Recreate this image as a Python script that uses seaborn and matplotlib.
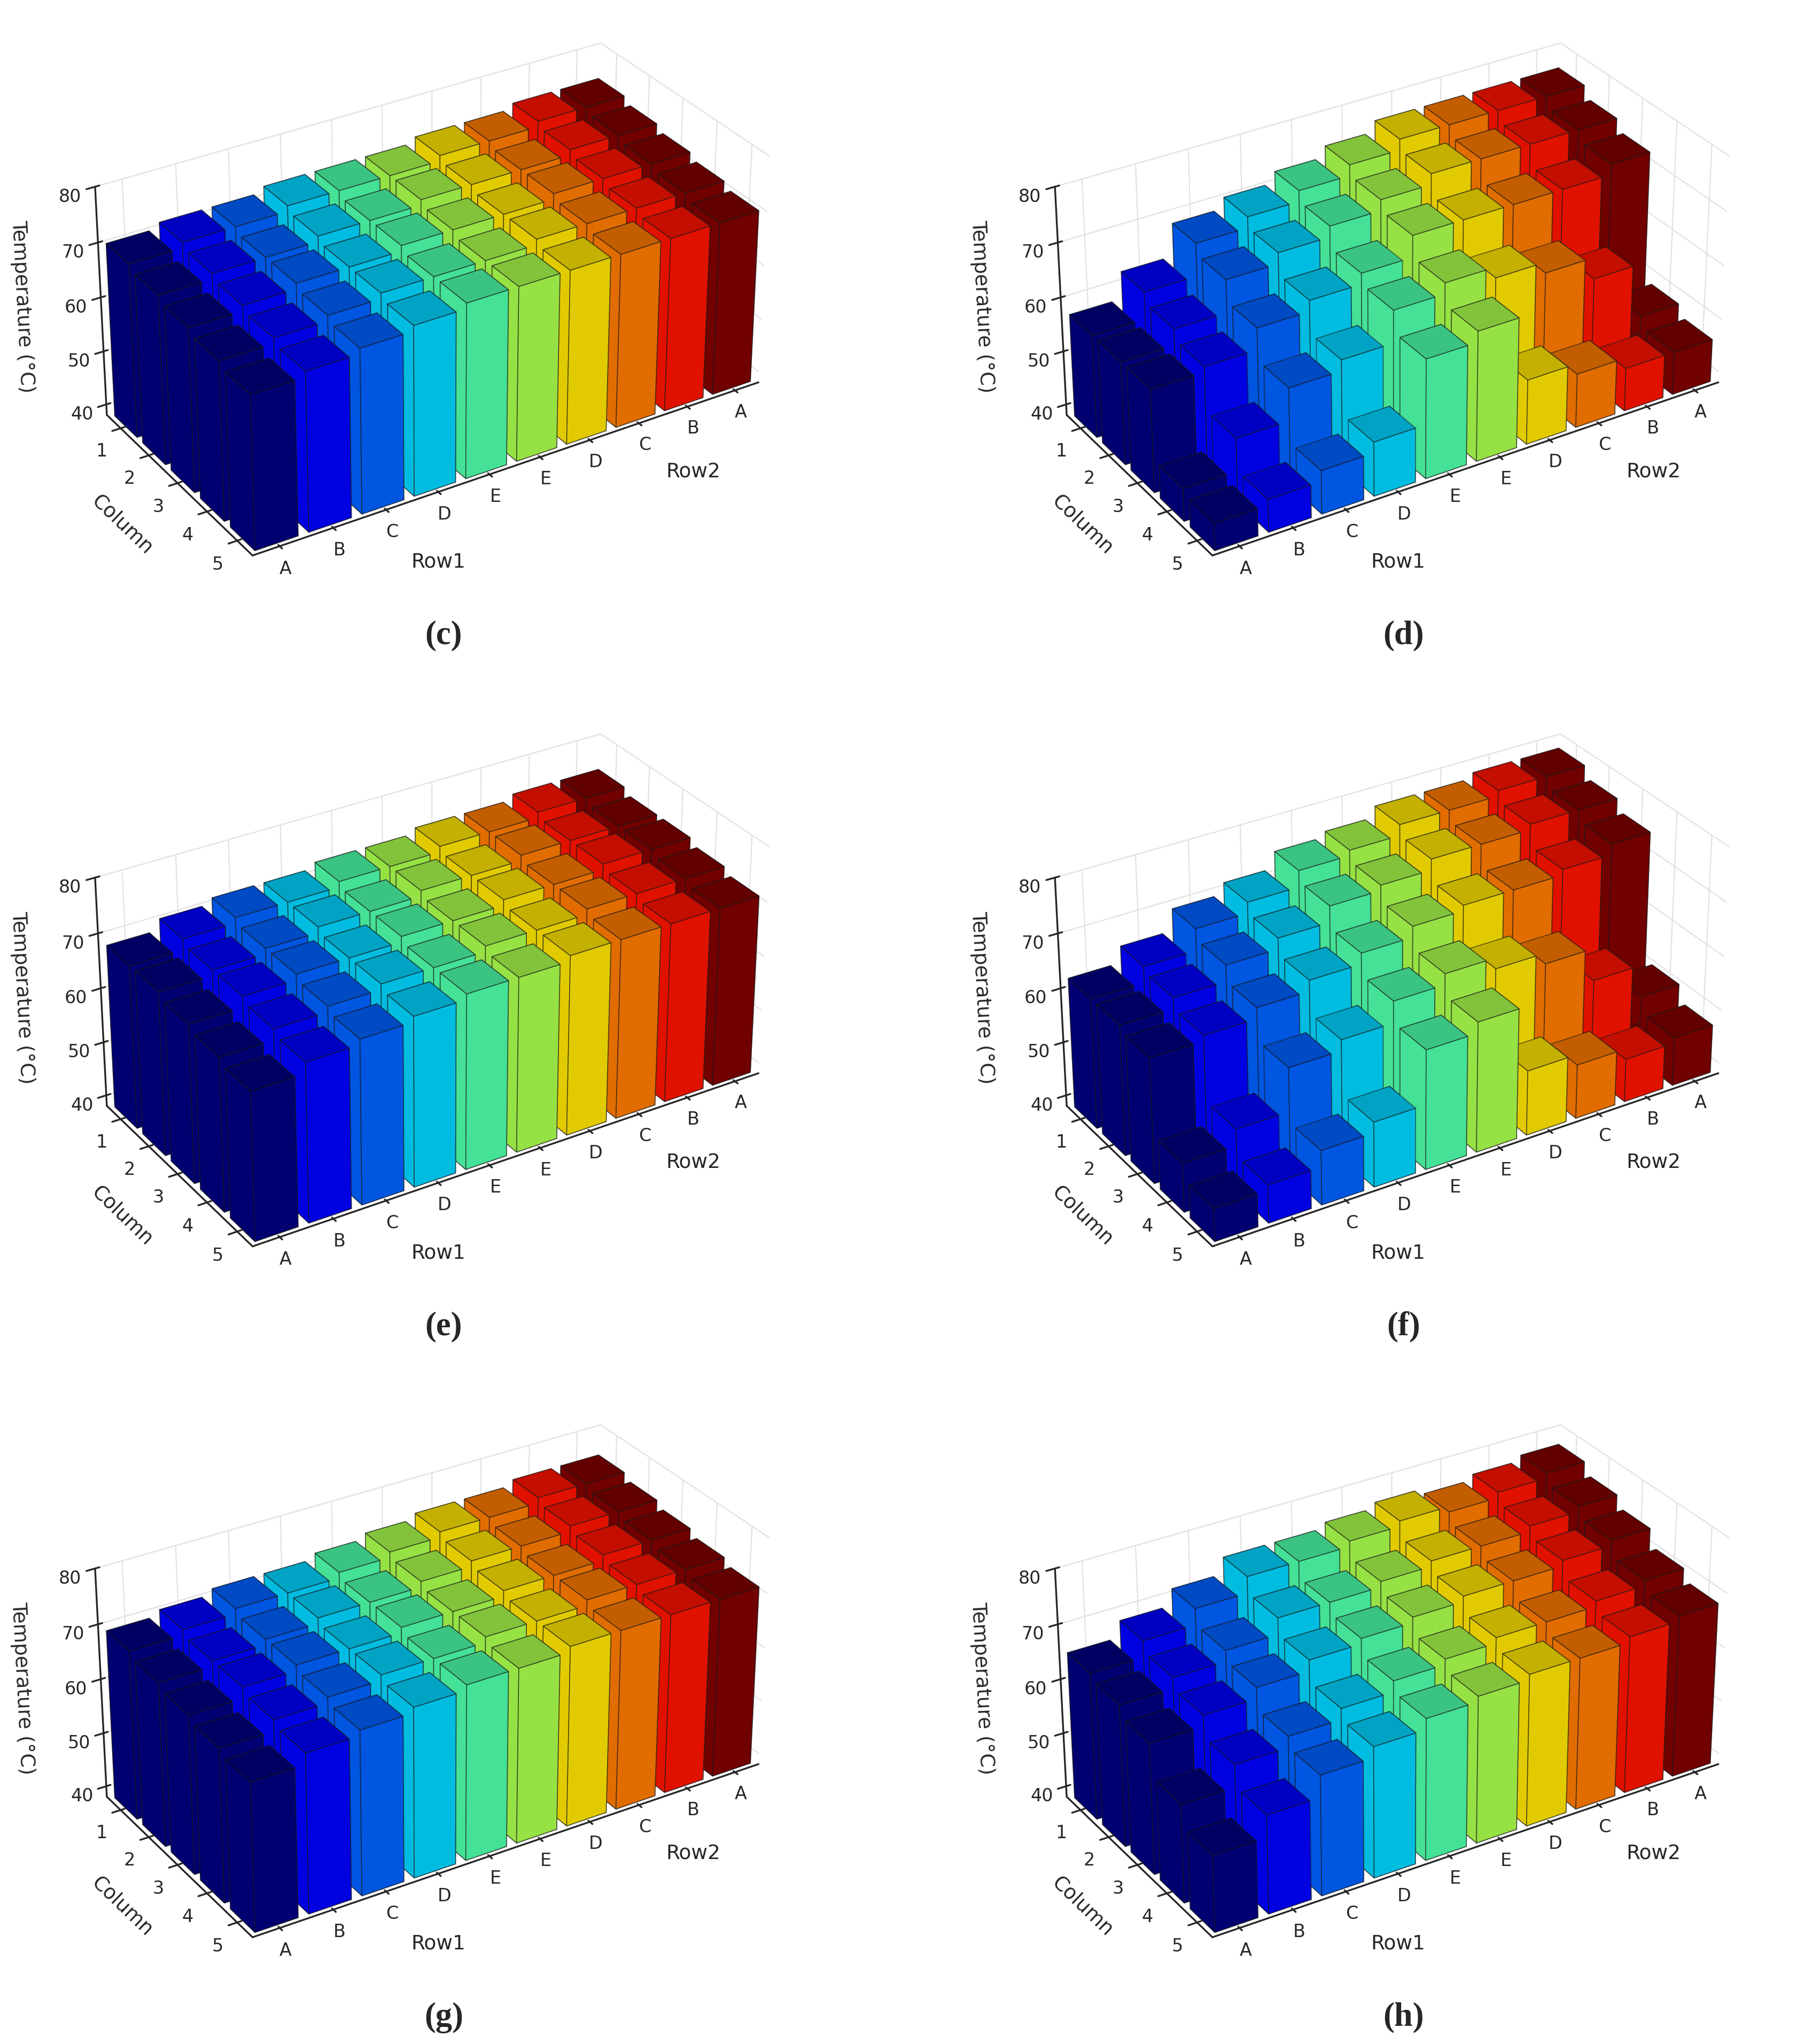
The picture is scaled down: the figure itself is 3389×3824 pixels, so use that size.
import numpy as np
import matplotlib
matplotlib.use("Agg")
import matplotlib.pyplot as plt
import seaborn as sns

sns.set_style("white")
plt.rcParams['font.family'] = ['DejaVu Sans']

x_labels = ["A", "B", "C", "D", "E", "E", "D", "C", "B", "A"]
col_labels = ["1", "2", "3", "4", "5"]
panel_names = ["c", "d", "e", "f", "g", "h"]

# rows: x groups (Row1 A..E, Row2 E..A); columns: Column 1..5
temps_c = [[70, 69, 68, 67, 66], [71, 70, 69, 68, 67], [71, 70, 70, 69, 68], [72, 71, 70, 70, 69],
           [72, 71, 71, 70, 70], [72, 72, 71, 70, 70], [73, 72, 71, 71, 70], [73, 72, 72, 71, 70],
           [74, 73, 72, 71, 70], [74, 73, 72, 71, 70]]
temps_d = [[57, 57, 57, 44, 43], [62, 60, 58, 50, 44], [68, 66, 62, 56, 46], [70, 68, 64, 58, 48],
           [72, 70, 66, 64, 60], [74, 72, 70, 66, 62], [76, 74, 70, 64, 50], [76, 74, 70, 62, 48],
           [76, 74, 70, 58, 46], [76, 74, 72, 48, 46]]
temps_e = [[68, 68, 67, 66, 65], [70, 69, 69, 68, 67], [71, 70, 70, 69, 68], [71, 71, 70, 70, 69],
           [72, 71, 71, 70, 70], [72, 72, 71, 71, 70], [73, 72, 72, 71, 71], [73, 73, 72, 72, 71],
           [74, 73, 73, 72, 71], [74, 73, 73, 72, 71]]
temps_f = [[62, 62, 61, 47, 44], [65, 64, 62, 50, 45], [69, 67, 64, 58, 48], [71, 69, 66, 60, 50],
           [74, 72, 68, 64, 60], [75, 73, 70, 66, 62], [77, 75, 71, 64, 50], [77, 75, 71, 62, 48],
           [78, 76, 72, 56, 46], [78, 76, 74, 50, 47]]
temps_g = [[69, 68, 67, 66, 65], [70, 69, 69, 68, 67], [71, 70, 70, 69, 68], [71, 71, 70, 70, 69],
           [72, 71, 71, 70, 70], [73, 72, 71, 71, 70], [74, 73, 72, 71, 71], [74, 73, 72, 72, 71],
           [75, 74, 73, 72, 71], [75, 74, 73, 72, 71]]
temps_h = [[65, 64, 62, 56, 52], [68, 66, 64, 60, 56], [71, 68, 66, 62, 60], [74, 71, 68, 64, 62],
           [74, 71, 69, 66, 64], [75, 72, 70, 67, 65], [76, 73, 71, 68, 66], [75, 73, 71, 68, 66],
           [76, 74, 72, 69, 67], [77, 75, 73, 70, 68]]
all_temps = [temps_c, temps_d, temps_e, temps_f, temps_g, temps_h]

cmap = plt.get_cmap("jet")
colors = [cmap(i / 9) for i in range(10)]

fig = plt.figure(figsize=(11.297, 12.747), dpi=300)
for p, (name, temps) in enumerate(zip(panel_names, all_temps)):
    r, c = divmod(p, 2)
    ax = fig.add_axes([-0.045 + c * 0.53, 0.685 - r * 0.338, 0.56, 0.34], projection="3d")
    T = np.array(temps, dtype=float)
    xs, ys, dz, cols = [], [], [], []
    for i in range(10):
        for j in range(5):
            xs.append(i + 0.1)
            ys.append((4 - j) + 0.1)
            dz.append(T[i, j] - 38)
            cols.append(colors[i])
    ax.bar3d(xs, ys, np.full(len(xs), 38.0), 0.8, 0.8, dz, color=cols,
             edgecolor=(0.1, 0.1, 0.1, 0.6), linewidth=0.4, shade=True)
    ax.view_init(elev=30, azim=-122)
    ax.set_box_aspect((2.0, 1.0, 0.88))
    ax.set_xlim(0, 10); ax.set_ylim(0, 5); ax.set_zlim(38, 80)
    ax.set_xticks(np.arange(10) + 0.5)
    ax.set_xticklabels(x_labels, fontsize=8)
    ax.set_yticks(np.arange(5) + 0.5)
    ax.set_yticklabels(col_labels[::-1], fontsize=8)
    ax.set_zticks([40, 50, 60, 70, 80])
    ax.set_zticklabels(["40", "50", "60", "70", "80"], fontsize=8)
    ax.set_ylabel("Column", fontsize=9, labelpad=-4)
    ax.set_zlabel("Temperature (°C)", fontsize=9, labelpad=-2)
    ax.text(2.5, -1.6, 36, "Row1", fontsize=9, ha="center")
    ax.text(7.5, -1.6, 36, "Row2", fontsize=9, ha="center")
    for a in (ax.xaxis, ax.yaxis, ax.zaxis):
        a.set_pane_color((1, 1, 1, 1))
        a._axinfo["grid"]["color"] = (0.88, 0.88, 0.88, 1)
        a._axinfo["grid"]["linewidth"] = 0.5
    ax.tick_params(pad=-2)
    fig.text(0.245 + c * 0.53, 0.685 - r * 0.338, f"({name})", ha="center",
             fontsize=15, fontweight="bold", family="Liberation Serif")

fig.savefig("out.png", dpi=300)
